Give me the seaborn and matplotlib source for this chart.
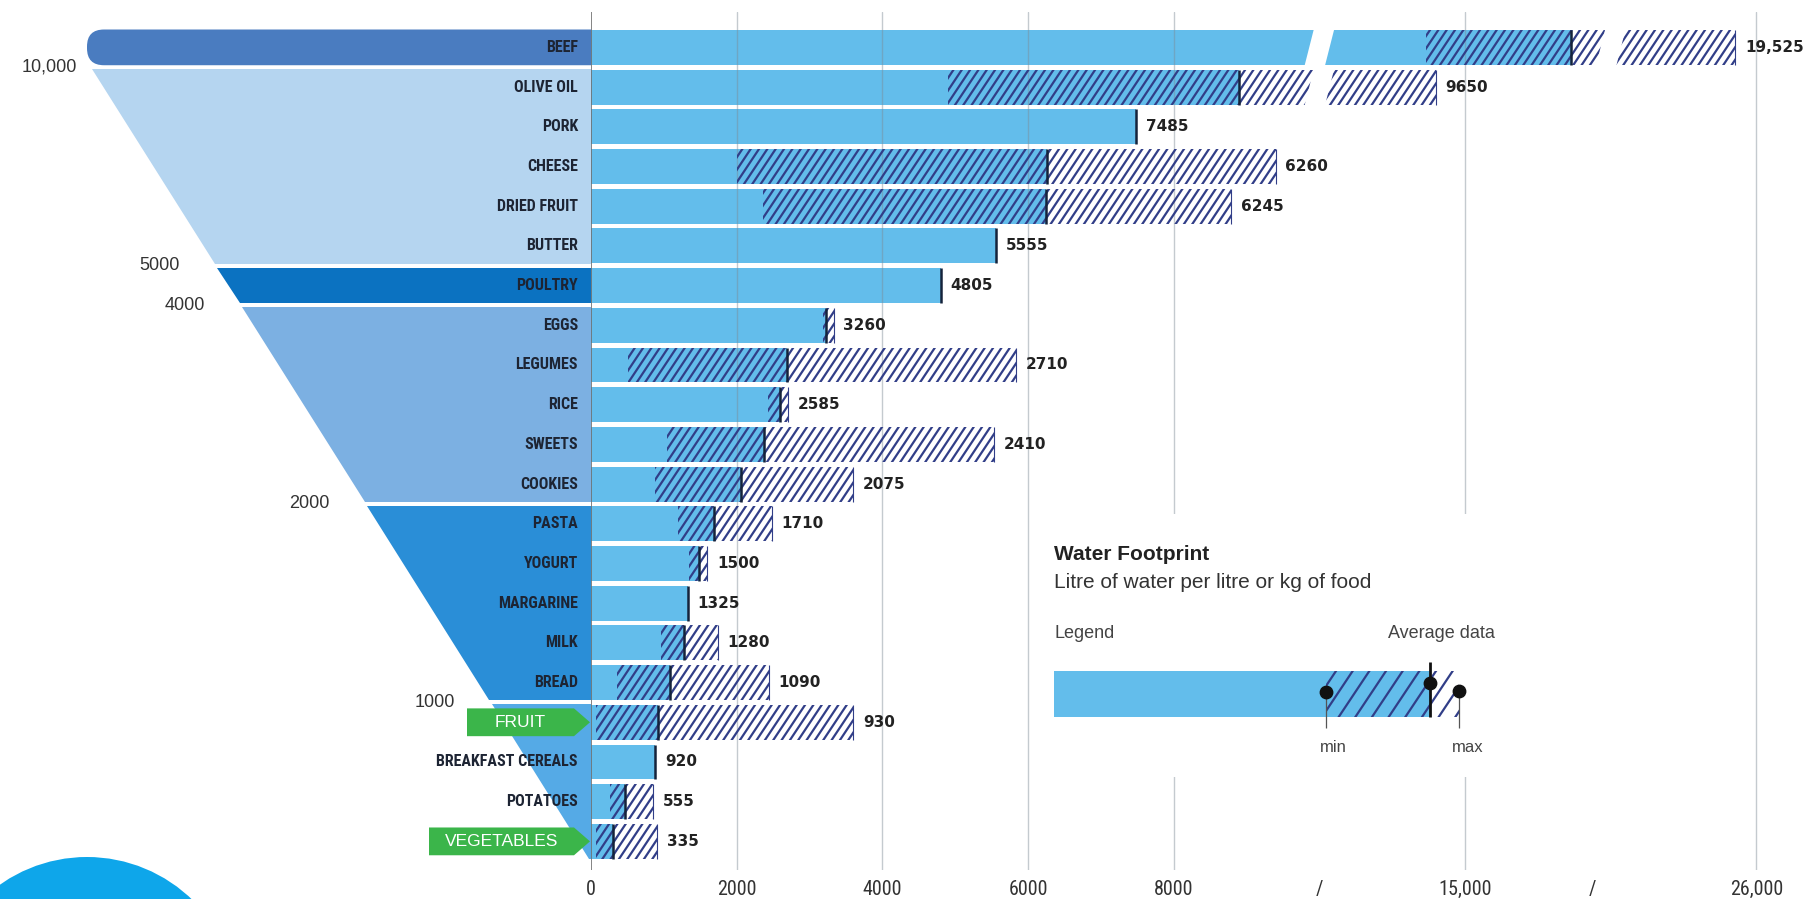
import numpy as np
import pandas as pd
import matplotlib
matplotlib.use('Agg')
import matplotlib.pyplot as plt
import matplotlib.hatch as mhatch
from matplotlib import font_manager as fm
from matplotlib.path import Path
from matplotlib.patches import Polygon, FancyBboxPatch, Circle
import seaborn as sns

nan = np.nan

# --- data (litres of water per kg / litre) ---
foods = ['BEEF', 'OLIVE OIL', 'PORK', 'CHEESE', 'DRIED FRUIT', 'BUTTER', 'POULTRY',
         'EGGS', 'LEGUMES', 'RICE', 'SWEETS', 'COOKIES', 'PASTA', 'YOGURT', 'MARGARINE',
         'MILK', 'BREAD', 'FRUIT', 'BREAKFAST CEREALS', 'POTATOES', 'VEGETABLES']
printed = [19525, 9650, 7485, 6260, 6245, 5555, 4805, 3260, 2710, 2585, 2410, 2075,
           1710, 1500, 1325, 1280, 1090, 930, 920, 555, 335]
avg = [19000, 8890, 7485, 6260, 6245, 5555, 4805, 3230, 2690, 2590, 2380, 2060,
       1690, 1480, 1325, 1270, 1090, 925, 880, 470, 300]
lo = [13650, 4905, nan, 2000, 2365, nan, nan, 3180, 508, 2430, 1048, 873,
      1190, 1350, nan, 955, 360, 70, nan, 258, 72]
hi = [25200, 14000, nan, 9400, 8790, nan, nan, 3330, 5830, 2710, 5535, 3600,
      2480, 1598, nan, 1740, 2444, 3600, nan, 855, 912]

grid_vals = [0, 2000, 4000, 6000, 8000, 15000, 26000]
breaks = [10000, 20500]
tick_vals = [0, 2000, 4000, 6000, 8000, 10000, 19800, 15000, 26000]
tick_labels = ['0', '2000', '4000', '6000', '8000', '/', '/', '15,000', '26,000']

group_rows = [(0, 0), (1, 5), (6, 6), (7, 11), (12, 16), (17, 20)]
group_colors = ['#4a7cc0', '#b5d5f0', '#0b72c1', '#7cb0e2', '#2a8ed7', '#55aae6']
thresholds = ['10,000', '5000', '4000', '2000', '1000']
tagged = {'FRUIT': 467, 'VEGETABLES': 429}

legend_min, legend_avg, legend_max = 272, 376, 405

BAR = '#63bdeb'
NAVY = '#313e88'
GREEN = '#3bb54a'
SANS = ['Liberation Sans', 'DejaVu Sans']

# condensed face for the food names and axis numbers, if one is installed
installed = {f.name for f in fm.fontManager.ttflist}
cond = [n for n in ['Liberation Sans Narrow', 'Roboto Condensed', 'Open Sans Condensed']
        if n in installed]
if cond:
    NARROW, name_size, tick_size = [cond[0]] + SANS, 11.5, 14.5
else:
    NARROW, name_size, tick_size = SANS, 10.5, 13


# steeper "/" hatch than matplotlib's 45 degree one
class SteepHatch(mhatch.HatchPatternBase):
    def __init__(self, hatch, density):
        self.num_lines = int((hatch.count('/') + hatch.count('x') + hatch.count('X')) * density)
        self.shift = (2 * self.num_lines) // 3
        self.num_vertices = (self.num_lines + self.shift + 1) * 2 if self.num_lines else 0

    def set_vertices_and_codes(self, vertices, codes):
        n = self.num_lines
        xs = np.arange(-self.shift, n + 1) / n
        vertices[0::2, 0] = xs
        vertices[0::2, 1] = 0.0
        vertices[1::2, 0] = xs + self.shift / n
        vertices[1::2, 1] = 1.0
        codes[0::2] = Path.MOVETO
        codes[1::2] = Path.LINETO


mhatch._hatch_types[mhatch._hatch_types.index(mhatch.NorthEastHatch)] = SteepHatch

# broken axis: 0-10000 linear, then compressed up to 15,000 and 26,000
real_pts = [0, 10000, 15000, 26000, 40000]
axis_pts = [0, 10000, 12000, 16000, 21091]


def fwd(x):
    return np.interp(x, real_pts, axis_pts)


def inv(x):
    return np.interp(x, axis_pts, real_pts)


def edge(r):
    # left edge of the funnel, in pixels of the left panel
    return 92.5 + (r - 0.553) * 24.97


sns.set_style('white')
plt.rcParams['hatch.linewidth'] = 1.6
plt.rcParams['hatch.color'] = NAVY

fig = plt.figure(figsize=(18.13, 8.99), dpi=100)
ax = fig.add_axes([591 / 1813, 0.0323, 1222 / 1813, 0.9544])

df = pd.DataFrame({'food': foods, 'avg': avg})
sns.barplot(data=df, x='avg', y='food', orient='h', color=BAR, saturation=1,
            width=0.88, errorbar=None, linewidth=0, ax=ax)

ax.set_xscale('function', functions=(fwd, inv))
ax.set_xlim(0, 28134)
ax.set_ylim(20.72, -0.892)

rows = np.arange(len(foods))
lo_a, hi_a, avg_a = np.array(lo), np.array(hi), np.array(avg)
m = ~np.isnan(lo_a)

ax.barh(rows[m], hi_a[m] - lo_a[m], left=lo_a[m], height=0.88, facecolor='none',
        edgecolor=NAVY, linewidth=0, hatch='//', zorder=3)
ax.vlines(hi_a[m], rows[m] - 0.44, rows[m] + 0.44, color=NAVY, lw=0.8, zorder=3)
ax.vlines(avg_a, rows - 0.44, rows + 0.44, color='#15233b', lw=1.8, zorder=4)

for g in grid_vals:
    if g == 0:
        ax.axvline(g, color='#6f6f6f', lw=1.2, zorder=2)
    else:
        ax.axvline(g, color='#7d8a96', alpha=0.45, lw=1, zorder=2)

# white slanted gaps where bars cross the axis breaks
ends = np.fmax(avg_a, np.nan_to_num(hi_a))
for b in breaks:
    e = fwd(b)
    for r in rows[ends > b]:
        ax.add_patch(Polygon([(inv(e - 205), r + 0.47), (inv(e + 75), r + 0.47),
                              (inv(e + 205), r - 0.47), (inv(e - 75), r - 0.47)],
                             closed=True, facecolor='white', edgecolor='none', zorder=5))

for r in rows:
    xv = hi_a[r] if m[r] else avg_a[r]
    txt = f'{printed[r]:,}' if printed[r] >= 10000 else str(printed[r])
    ax.annotate(txt, (xv, r), xytext=(7, 0), textcoords='offset points', va='center',
                ha='left', fontsize=11, fontweight='bold', color='#222222', zorder=6)

ax.set_xticks(tick_vals, tick_labels, fontfamily=NARROW, fontsize=tick_size, color='#333333')
ax.tick_params(axis='x', length=0, pad=7)
ax.set_yticks([])
ax.set_xlabel('')
ax.set_ylabel('')
sns.despine(ax=ax, left=True, bottom=True)
ax.set_zorder(1)

# left panel: funnel bands, category names, thresholds
fax = fig.add_axes([0, 0.0323, 591 / 1813, 0.9544], sharey=ax)
fax.set_xlim(0, 591)
fax.axis('off')
fax.set_zorder(0)

for (r0, r1), c in zip(group_rows, group_colors):
    top, bot = r0 - 0.45, r1 + 0.45
    if r0 == 0:
        fax.add_patch(FancyBboxPatch((87, top), 600, bot - top,
                                     boxstyle='round,pad=0,rounding_size=17',
                                     mutation_aspect=1 / 39.7, facecolor=c, edgecolor='none'))
    else:
        fax.add_patch(Polygon([(edge(top), top), (640, top), (640, bot), (edge(bot), bot)],
                              closed=True, facecolor=c, edgecolor='none'))

for lab, (r0, r1) in zip(thresholds, group_rows[:-1]):
    b = r1 + 0.5
    fax.text(max(edge(b) - 36, 77), b, lab, ha='right', va='center', fontsize=13,
             color='#333333', fontfamily=SANS)

for r, f in enumerate(foods):
    if f in tagged:
        x0 = tagged[f]
        fax.add_patch(Polygon([(x0, r - 0.35), (574, r - 0.35), (590, r), (574, r + 0.35),
                               (x0, r + 0.35)], closed=True, facecolor=GREEN, edgecolor='none'))
        fax.text((x0 + 574) / 2, r, f, ha='center', va='center', fontsize=12.5,
                 color='white', fontfamily=SANS)
    else:
        fax.text(578, r, f, ha='right', va='center', fontsize=name_size, fontweight='bold',
                 color='#1d2433', fontfamily=NARROW)

# legend box
lax = fig.add_axes([1040 / 1813, 1 - 777 / 899, 470 / 1813, 263 / 899])
lax.set_xlim(-14, 456)
lax.set_ylim(263, 0)
lax.set_facecolor('white')
lax.set_xticks([])
lax.set_yticks([])
for s in lax.spines.values():
    s.set_visible(False)
lax.set_zorder(3)

lax.text(0, 41, 'Water Footprint', fontsize=15, fontweight='bold', va='center',
         color='#222222', fontfamily=SANS)
lax.text(0, 68, 'Litre of water per litre or kg of food', fontsize=15, va='center',
         color='#333333', fontfamily=SANS)
lax.text(0, 120, 'Legend', fontsize=13, va='center', color='#444444', fontfamily=SANS)
lax.text(441, 120, 'Average data', fontsize=13, va='center', ha='right', color='#444444',
         fontfamily=SANS)
lax.barh(180, legend_avg, height=46, color=BAR, linewidth=0)
lax.barh(180, legend_max - legend_min, left=legend_min, height=46, facecolor='none',
         edgecolor=NAVY, linewidth=0, hatch='/')
lax.vlines(legend_avg, 148, 203, color='#111111', lw=2)
lax.vlines([legend_min, legend_max], [178, 177], 214, color='#555555', lw=0.9)
lax.scatter([legend_min, legend_avg, legend_max], [178, 169, 177], s=80, color='#111111',
            zorder=5)
lax.text(legend_min + 7, 234, 'min', fontsize=12, ha='center', va='center', color='#444444',
         fontfamily=SANS)
lax.text(legend_max + 9, 234, 'max', fontsize=12, ha='center', va='center', color='#444444',
         fontfamily=SANS)

# decorative circle in the bottom-left corner
fig.add_artist(Circle((0.87, -1.09), 1.51, transform=fig.dpi_scale_trans,
                      facecolor='#0ea6ea', edgecolor='none'))

fig.savefig('out.png', dpi=100)
